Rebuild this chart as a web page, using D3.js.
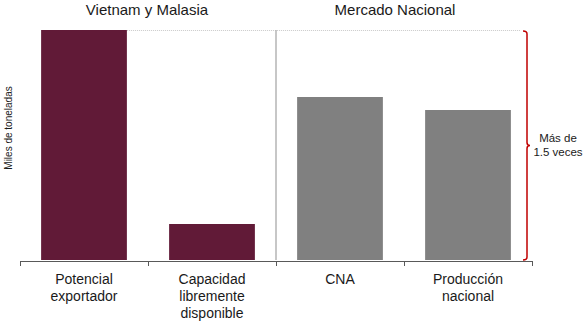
<!DOCTYPE html>
<html>
<head>
<meta charset="utf-8">
<script src="https://cdn.jsdelivr.net/npm/d3@7"></script>
<style>
  html, body { margin: 0; padding: 0; background: #fff; }
  svg { display: block; font-family: "Liberation Sans", Arial, sans-serif; }
</style>
</head>
<body>
<svg id="chart" width="587" height="322"></svg>
<script>
// Categories and values (miles de toneladas)
const categories = ["Potencial exportador", "Capacidad libremente disponible", "CNA", "Producción nacional"];
const labelLines = [["Potencial", "exportador"], ["Capacidad", "libremente", "disponible"], ["CNA"], ["Producción", "nacional"]];
const values = [460, 72, 326, 300];
const groups = ["Vietnam y Malasia", "Mercado Nacional"];
const groupMembers = [[0, 1], [2, 3]];
const colors = ["#611a37", "#611a37", "#808080", "#808080"];
const braceText = ["Más de", "1.5 veces"];

const svg = d3.select("#chart");
const plotLeft = 20, plotRight = 532, plotTop = 30, plotBottom = 260;

const x = d3.scaleBand().domain(categories).range([plotLeft, plotRight]).paddingInner(0.33).paddingOuter(0.165);
const y = d3.scaleLinear().domain([0, d3.max(values)]).range([plotBottom, plotTop]);

// dotted reference line at the top value
svg.append("line")
  .attr("x1", x(categories[0]) + x.bandwidth()).attr("x2", 520)
  .attr("y1", y(d3.max(values)) + 0.5).attr("y2", y(d3.max(values)) + 0.5)
  .attr("stroke", "#c8c8c8").attr("stroke-width", 1).attr("stroke-dasharray", "1,1");

// separator between groups
const step = x.step();
const sepX = plotLeft + step * 2;
svg.append("line")
  .attr("x1", sepX).attr("x2", sepX)
  .attr("y1", y(d3.max(values))).attr("y2", plotBottom)
  .attr("stroke", "#b4b4b4").attr("stroke-width", 1.5);

// bars
svg.selectAll("rect.bar").data(values).join("rect")
  .attr("class", "bar")
  .attr("x", (d, i) => x(categories[i]))
  .attr("y", d => y(d))
  .attr("width", x.bandwidth())
  .attr("height", d => plotBottom - y(d))
  .attr("fill", (d, i) => colors[i]);

// x axis with ticks at band boundaries
const axisY = plotBottom + 1.5;
svg.append("line")
  .attr("x1", plotLeft).attr("x2", plotRight + 1)
  .attr("y1", axisY).attr("y2", axisY)
  .attr("stroke", "#595959").attr("stroke-width", 1);
const tickXs = d3.range(categories.length + 1).map(i => plotLeft + i * step);
svg.selectAll("line.tick").data(tickXs).join("line")
  .attr("class", "tick")
  .attr("x1", d => d + 0.5).attr("x2", d => d + 0.5)
  .attr("y1", axisY).attr("y2", axisY + 4.5)
  .attr("stroke", "#595959").attr("stroke-width", 1);

// category labels
const lab = svg.selectAll("text.cat").data(categories).join("text")
  .attr("class", "cat")
  .attr("text-anchor", "middle")
  .attr("font-size", 14)
  .attr("fill", "#1a1a1a");
lab.each(function(d, i) {
  const t = d3.select(this);
  labelLines[i].forEach((ln, j) => {
    t.append("tspan")
      .attr("x", x(d) + x.bandwidth() / 2)
      .attr("y", 284 + j * 17)
      .text(ln);
  });
});

// group titles
svg.selectAll("text.group").data(groups).join("text")
  .attr("class", "group")
  .attr("text-anchor", "middle")
  .attr("font-size", 15)
  .attr("fill", "#1a1a1a")
  .attr("x", (d, i) => {
    const m = groupMembers[i];
    return (x(categories[m[0]]) + x(categories[m[1]]) + x.bandwidth()) / 2 - (i === 1 ? 9 : 1);
  })
  .attr("y", 15)
  .text(d => d);

// y axis title
svg.append("text")
  .attr("transform", "translate(12,128) rotate(-90)")
  .attr("text-anchor", "middle")
  .attr("font-size", 10)
  .attr("fill", "#1a1a1a")
  .text("Miles de toneladas");

// curly brace
const bx = 527, by0 = y(d3.max(values)) + 1, by1 = plotBottom, bm = (by0 + by1) / 2;
const r = 3;
const brace = `M${bx - 4},${by0} Q${bx},${by0} ${bx},${by0 + r}
  L${bx},${bm - r} Q${bx},${bm} ${bx + 3},${bm} Q${bx},${bm} ${bx},${bm + r}
  L${bx},${by1 - r} Q${bx},${by1} ${bx - 4},${by1}`;
svg.append("path")
  .attr("d", brace)
  .attr("fill", "none")
  .attr("stroke", "#c00000")
  .attr("stroke-width", 1.5);

svg.append("text")
  .attr("text-anchor", "middle")
  .attr("font-size", 11.5)
  .attr("fill", "#1a1a1a")
  .selectAll("tspan").data(braceText).join("tspan")
  .attr("x", 558)
  .attr("y", (d, i) => 142 + i * 14)
  .text(d => d);
</script>
</body>
</html>
